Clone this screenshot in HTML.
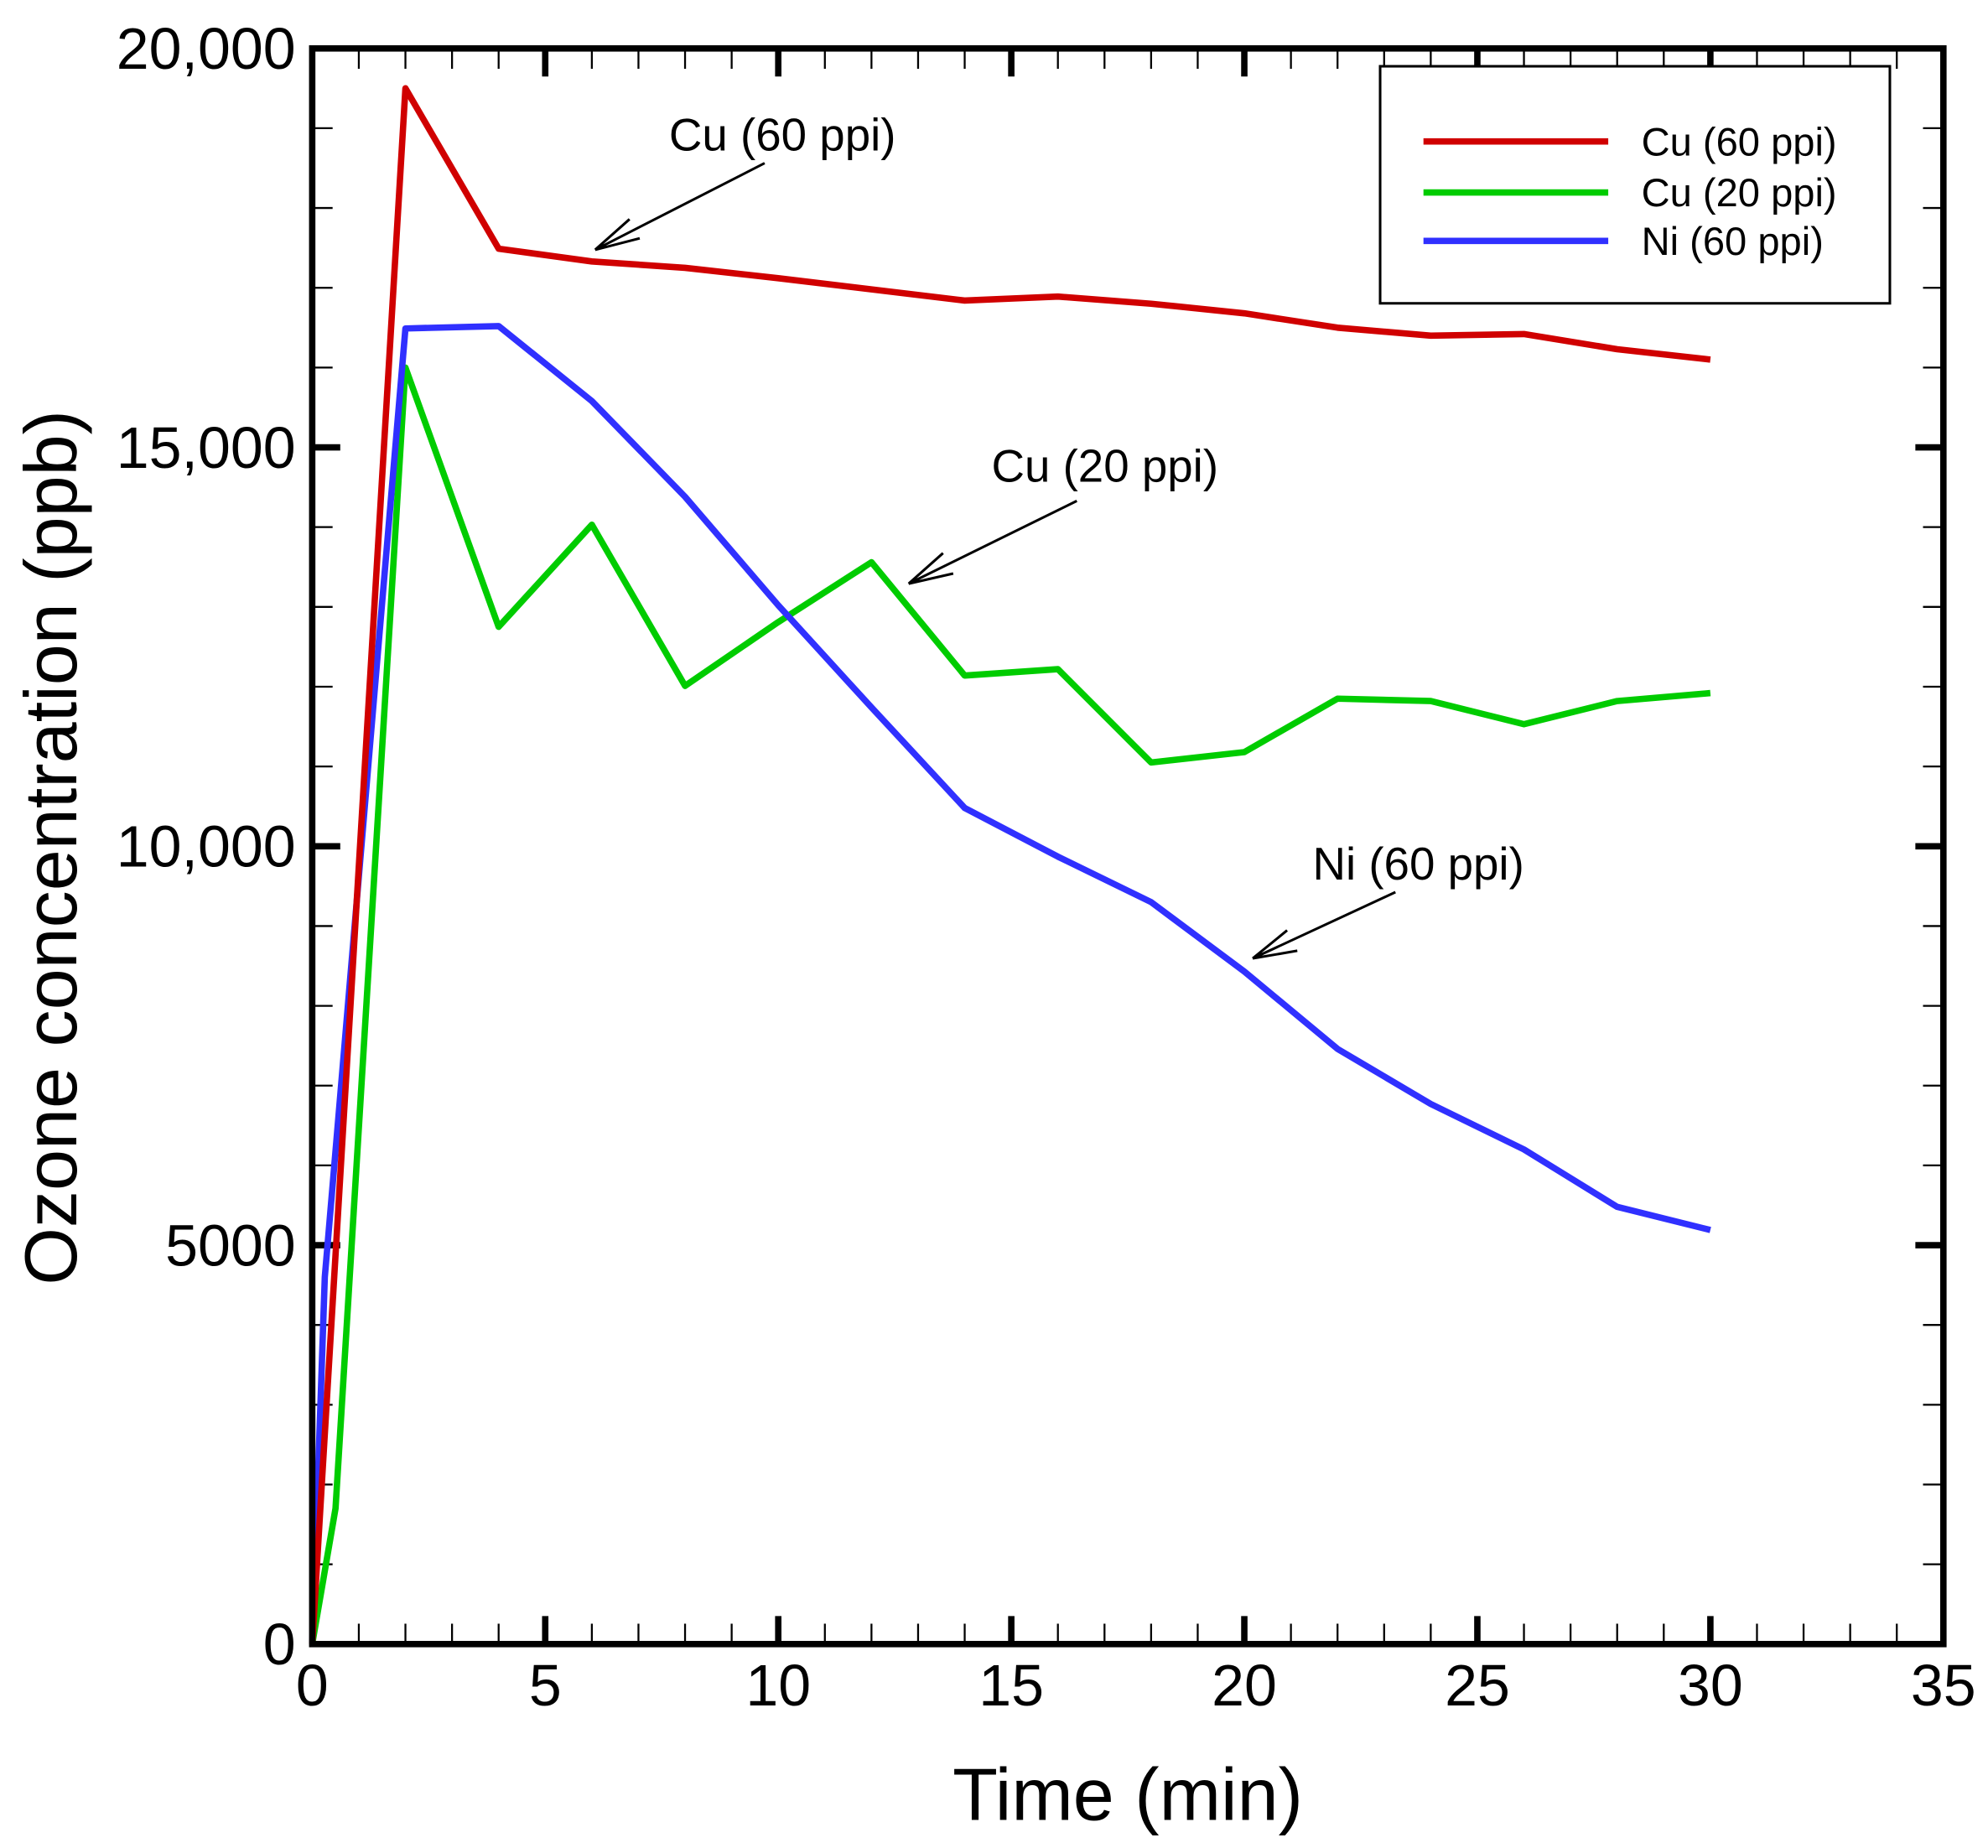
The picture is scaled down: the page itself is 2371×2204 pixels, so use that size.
<!DOCTYPE html>
<html><head><meta charset="utf-8"><style>
html,body{margin:0;padding:0;background:#fff;}
svg{display:block;font-family:"Liberation Sans",Arial,sans-serif;}
</style></head><body>
<svg id="chart" width="2371" height="2204" viewBox="0 0 1560 1450" preserveAspectRatio="none" xmlns="http://www.w3.org/2000/svg">
<rect width="1560" height="1450" fill="#fff"/>
<g id="ticks"></g>
<g id="series"></g>
<rect x="245" y="38" width="1280" height="1252" fill="none" stroke="#000" stroke-width="5"/>
<g id="labels" font-size="46" fill="#000"></g>
<text x="885" y="1428" font-size="58" text-anchor="middle">Time (min)</text>
<text transform="translate(60,665) rotate(-90)" font-size="58" text-anchor="middle">Ozone concentration (ppb)</text>
<g>
<rect x="1083" y="52" width="400" height="186" fill="#fff" stroke="#000" stroke-width="2"/>
<line x1="1117" y1="111" x2="1262" y2="111" stroke="#d00000" stroke-width="5"/>
<line x1="1117" y1="151" x2="1262" y2="151" stroke="#00cc00" stroke-width="5"/>
<line x1="1117" y1="189" x2="1262" y2="189" stroke="#3030ff" stroke-width="5"/>
<text x="1288" y="122" font-size="31">Cu (60 ppi)</text>
<text x="1288" y="162" font-size="31">Cu (20 ppi)</text>
<text x="1288" y="200" font-size="31">Ni (60 ppi)</text>
</g>
<g font-size="36" fill="none" stroke="#000" stroke-width="2">
<text x="525" y="118" fill="#000" stroke="none">Cu (60 ppi)</text>
<path d="M600,128 L467,196 M467,196 L494,172 M467,196 L502,187"/>
<text x="778" y="378" fill="#000" stroke="none">Cu (20 ppi)</text>
<path d="M845,393 L713,458 M713,458 L740,434 M713,458 L748,450"/>
<text x="1030" y="690" fill="#000" stroke="none">Ni (60 ppi)</text>
<path d="M1095,700 L983,752 M983,752 L1010,730 M983,752 L1018,746"/>
</g>
</svg>
<script>
const timeCu60=[0,2,4,6,8,10,12,14,16,18,20,22,24,26,28,30];
const cu60=[0,19500,17490,17330,17250,17120,16980,16840,16890,16800,16680,16500,16400,16420,16230,16100];
const timeCu20=[0,0.5,2,4,6,8,10,12,14,16,18,20,22,24,26,28,30];
const cu20=[0,1700,16000,12750,14030,12010,12810,13560,12140,12220,11050,11180,11850,11820,11530,11820,11920];
const timeNi60=[0,0.27,2,4,6,8,10,12,14,16,18,20,22,24,26,28,30];
const ni60=[0,4600,16490,16520,15580,14380,13020,11740,10480,9870,9300,8430,7460,6770,6200,5480,5190];
const xTickLabels=["0","5","10","15","20","25","30","35"];
const yTickLabels=["0","5000","10,000","15,000","20,000"];
const NS="http://www.w3.org/2000/svg";
const X0=245,X1=1525,Y0=1290,Y1=38;
function sx(t){return X0+(t/35)*(X1-X0);}
function sy(v){return Y0-(v/20000)*(Y0-Y1);}
const tg=document.getElementById('ticks');
function ln(g,x1,y1,x2,y2,w){const l=document.createElementNS(NS,'line');l.setAttribute('x1',x1);l.setAttribute('y1',y1);l.setAttribute('x2',x2);l.setAttribute('y2',y2);l.setAttribute('stroke','#000');l.setAttribute('stroke-width',w);


g.appendChild(l);}
for(let t=1;t<35;t++){const maj=t%5===0;const L=maj?22:16;const w=maj?5:1.5;const x=sx(t);
ln(tg,x,Y0,x,Y0-L,w);ln(tg,x,Y1,x,Y1+L,w);}
for(let v=1000;v<20000;v+=1000){const maj=v%5000===0;const L=maj?22:16;const w=maj?5:1.5;const y=sy(v);
ln(tg,X0,y,X0+L,y,w);ln(tg,X1,y,X1-L,y,w);}
const lg=document.getElementById('labels');
xTickLabels.forEach((s,i)=>{const t=document.createElementNS(NS,'text');t.setAttribute('x',sx(+s));t.setAttribute('y',1338);t.setAttribute('text-anchor','middle');t.textContent=s;


lg.appendChild(t);});
yTickLabels.forEach((s,i)=>{const t=document.createElementNS(NS,'text');t.setAttribute('x',232);t.setAttribute('y',sy(i*5000)+16);t.setAttribute('text-anchor','end');t.textContent=s;


lg.appendChild(t);});
const sg=document.getElementById('series');
function series(xs,ys,color,name){const p=document.createElementNS(NS,'polyline');p.setAttribute('points',xs.map((t,i)=>sx(t)+','+sy(ys[i])).join(' '));p.setAttribute('fill','none');p.setAttribute('stroke',color);p.setAttribute('stroke-width','5');p.setAttribute('stroke-linejoin','round');


sg.appendChild(p);}
series(timeCu20,cu20,'#00cc00','line-cu20');
series(timeNi60,ni60,'#3030ff','line-ni60');
series(timeCu60,cu60,'#d00000','line-cu60');
</script>
</body></html>
